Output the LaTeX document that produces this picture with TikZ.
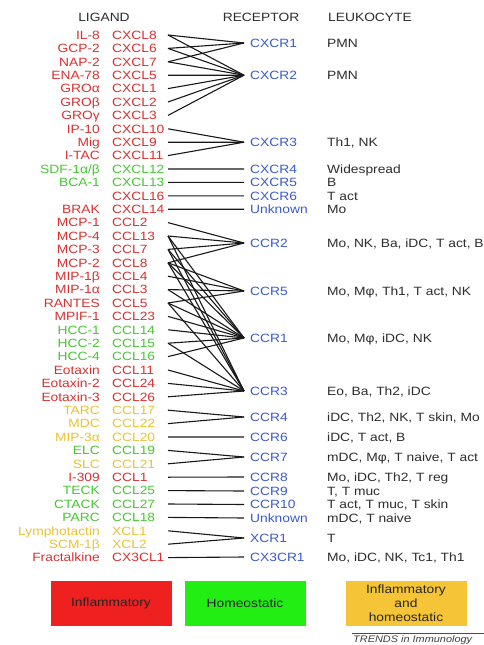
\documentclass[tikz,border=0pt]{standalone}
\usepackage{fontspec}
\setmainfont[FakeStretch=1.15]{Liberation Sans}
\definecolor{lred}{RGB}{218,48,48}
\definecolor{lgreen}{RGB}{70,200,50}
\definecolor{lyel}{RGB}{235,195,50}
\definecolor{rblue}{RGB}{60,90,205}
\definecolor{txt}{RGB}{45,45,45}
\definecolor{boxred}{RGB}{238,32,32}
\definecolor{boxgreen}{RGB}{34,238,20}
\definecolor{boxorange}{RGB}{245,197,55}
\tikzset{
  lab/.style={font=\fontsize{12}{13}\selectfont, inner sep=0pt},
  ligname/.style={lab, anchor=base east},
  ligsys/.style={lab, anchor=base west},
  rec/.style={lab, anchor=base west, text=rblue},
  leuk/.style={lab, anchor=base west, text=txt},
  head/.style={lab, anchor=base, text=txt},
  conn/.style={draw=black!90, line width=1.1pt},
  legbox/.style={draw=none, minimum width=121pt, minimum height=45pt, inner sep=0pt, font=\fontsize{12}{14}\selectfont, align=center, text=black!85}
}
\begin{document}
\begin{tikzpicture}[x=1pt,y=-1pt]
\useasboundingbox (0,0) rectangle (484,645);
\fill[white] (0,0) rectangle (484,645);
% headers
\node[head] (hlig) at (104,21) {LIGAND};
\node[head] (hrec) at (261,21) {RECEPTOR};
\node[head] (hleu) at (370,21) {LEUKOCYTE};
% ligands
\foreach \i/\a/\b/\c in {
 0/IL-8/CXCL8/lred, 1/GCP-2/CXCL6/lred, 2/NAP-2/CXCL7/lred, 3/ENA-78/CXCL5/lred,
 4/GROα/CXCL1/lred, 5/GROβ/CXCL2/lred, 6/GROγ/CXCL3/lred, 7/IP-10/CXCL10/lred,
 8/Mig/CXCL9/lred, 9/I-TAC/CXCL11/lred, 10/SDF-1α\slash β/CXCL12/lgreen, 11/BCA-1/CXCL13/lgreen,
 12//CXCL16/lred, 13/BRAK/CXCL14/lred, 14/MCP-1/CCL2/lred, 15/MCP-4/CCL13/lred,
 16/MCP-3/CCL7/lred, 17/MCP-2/CCL8/lred, 18/MIP-1β/CCL4/lred, 19/MIP-1α/CCL3/lred,
 20/RANTES/CCL5/lred, 21/MPIF-1/CCL23/lred, 22/HCC-1/CCL14/lgreen, 23/HCC-2/CCL15/lgreen,
 24/HCC-4/CCL16/lgreen, 25/Eotaxin/CCL11/lred, 26/Eotaxin-2/CCL24/lred, 27/Eotaxin-3/CCL26/lred,
 28/TARC/CCL17/lyel, 29/MDC/CCL22/lyel, 30/MIP-3α/CCL20/lyel, 31/ELC/CCL19/lgreen,
 32/SLC/CCL21/lyel, 33/I-309/CCL1/lred, 34/TECK/CCL25/lgreen, 35/CTACK/CCL27/lgreen,
 36/PARC/CCL18/lgreen, 37/Lymphotactin/XCL1/lyel, 38/SCM-1β/XCL2/lyel, 39/Fractalkine/CX3CL1/lred}
{
  \pgfmathsetmacro{\yy}{35+13.4*\i}
  \node[ligname, text=\c] (n\i) at (100,\yy+4.2) {\a};
  \node[ligsys, text=\c] (s\i) at (112,\yy+4.2) {\b};
  \coordinate (l\i) at (168,\yy);
}
% receptors
\newcommand{\rcpt}[4]{%
  \coordinate (R#1) at (244,#2);
  \node[rec] (t#1) at (250,#2+4.2) {#3};
  \node[leuk] (k#1) at (327,#2+4.2) {#4};}
\rcpt{cxcr1}{43}{CXCR1}{PMN}
\rcpt{cxcr2}{75.2}{CXCR2}{PMN}
\rcpt{cxcr3}{142.2}{CXCR3}{Th1, NK}
\rcpt{cxcr4}{169}{CXCR4}{Widespread}
\rcpt{cxcr5}{182.4}{CXCR5}{B}
\rcpt{cxcr6}{195.8}{CXCR6}{T act}
\rcpt{unka}{209.2}{Unknown}{Mo}
\rcpt{ccr2}{243}{CCR2}{Mo, NK, Ba, iDC, T act, B}
\rcpt{ccr5}{291}{CCR5}{Mo, Mφ, Th1, T act, NK}
\rcpt{ccr1}{338}{CCR1}{Mo, Mφ, iDC, NK}
\rcpt{ccr3}{391}{CCR3}{Eo, Ba, Th2, iDC}
\rcpt{ccr4}{417}{CCR4}{iDC, Th2, NK, T skin, Mo}
\rcpt{ccr6}{437}{CCR6}{iDC, T act, B}
\rcpt{ccr7}{457}{CCR7}{mDC, Mφ, T naive, T act}
\rcpt{ccr8}{477}{CCR8}{Mo, iDC, Th2, T reg}
\rcpt{ccr9}{491}{CCR9}{T, T muc}
\rcpt{ccr10}{504.5}{CCR10}{T act, T muc, T skin}
\rcpt{unkb}{518}{Unknown}{mDC, T naive}
\rcpt{xcr1}{538}{XCR1}{T}
\rcpt{cx3cr1}{557}{CX3CR1}{Mo, iDC, NK, Tc1, Th1}
% connectors
\foreach \a/\b in {0/cxcr1,1/cxcr1,2/cxcr1,
 0/cxcr2,1/cxcr2,2/cxcr2,3/cxcr2,4/cxcr2,5/cxcr2,6/cxcr2,
 7/cxcr3,8/cxcr3,9/cxcr3,10/cxcr4,11/cxcr5,12/cxcr6,13/unka,
 14/ccr2,15/ccr2,16/ccr2,17/ccr2,
 17/ccr5,18/ccr5,19/ccr5,20/ccr5,
 15/ccr1,16/ccr1,17/ccr1,19/ccr1,20/ccr1,21/ccr1,22/ccr1,23/ccr1,24/ccr1,
 15/ccr3,16/ccr3,17/ccr3,20/ccr3,23/ccr3,25/ccr3,26/ccr3,27/ccr3,
 28/ccr4,29/ccr4,30/ccr6,31/ccr7,32/ccr7,33/ccr8,34/ccr9,35/ccr10,36/unkb,
 37/xcr1,38/xcr1,39/cx3cr1}
 \draw[conn] (l\a) -- (R\b);
% legend
\node[legbox, fill=boxred] (binf) at (111,603.5) {Inflammatory};
\node[legbox, fill=boxgreen] (bhom) at (245,603.5) {Homeostatic};
\node[legbox, fill=boxorange] (bboth) at (406,603.5) {Inflammatory\\and\\homeostatic};
\draw[black!70, line width=0.6pt] (352,633.5) -- (484,633.5);
\node[lab, anchor=north west, font=\fontsize{9.5}{10}\itshape, text=black!75] (trends) at (353,635) {TRENDS in Immunology};
\end{tikzpicture}
\end{document}
